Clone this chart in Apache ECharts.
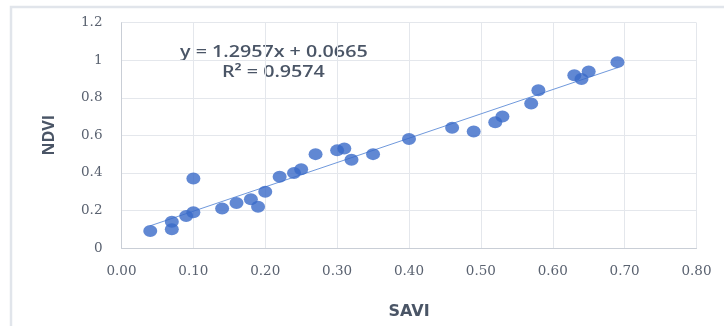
<!DOCTYPE html>
<html>
<head>
<meta charset="utf-8">
<script src="https://cdn.jsdelivr.net/npm/echarts@6/dist/echarts.min.js"></script>
<style>
html,body{margin:0;padding:0;background:#fff;}
#main{width:724px;height:326px;}
</style>
</head>
<body>
<div id="main"></div>
<script>
var saviValues = [0.04, 0.07, 0.07, 0.09, 0.10, 0.10, 0.14, 0.16, 0.18, 0.19, 0.20, 0.22, 0.24, 0.25, 0.27, 0.30, 0.31, 0.32, 0.35, 0.40, 0.46, 0.49, 0.52, 0.53, 0.57, 0.58, 0.63, 0.64, 0.65, 0.69];
var ndviValues = [0.09, 0.14, 0.10, 0.17, 0.19, 0.37, 0.21, 0.24, 0.26, 0.22, 0.30, 0.38, 0.40, 0.42, 0.50, 0.52, 0.53, 0.47, 0.50, 0.58, 0.64, 0.62, 0.67, 0.70, 0.77, 0.84, 0.92, 0.90, 0.94, 0.99];
var trendSlope = 1.2957;
var trendIntercept = 0.0665;
var trendRange = [0.04, 0.69];
var equationText = 'y = 1.2957x + 0.0665';
var r2Text = 'R² = 0.9574';
var xTitle = 'SAVI';
var yTitle = 'NDVI';

var points = saviValues.map(function (x, i) { return [x, ndviValues[i]]; });
var trend = trendRange.map(function (x) { return [x, trendSlope * x + trendIntercept]; });

var chart = echarts.init(document.getElementById('main'), null, {renderer: 'canvas'});
var tickFont = '"DejaVu Serif", "Liberation Serif", serif';
chart.setOption({
  animation: false,
  backgroundColor: '#ffffff',
  grid: {left: 121.5, right: 27.5, top: 22.7, bottom: 78, containLabel: false},
  xAxis: {
    type: 'value', min: 0, max: 0.8, interval: 0.1,
    name: xTitle, nameLocation: 'middle', nameGap: 56,
    nameTextStyle: {fontFamily: '"DejaVu Sans", sans-serif', fontWeight: 'bold', fontSize: 16, color: '#4a5566'},
    axisLine: {show: true, lineStyle: {color: '#c9ced6', width: 1}},
    axisTick: {show: false},
    splitLine: {show: true, lineStyle: {color: '#e4e7ec', width: 1}},
    axisLabel: {margin: 16, fontFamily: tickFont, fontSize: 13.5, color: '#5a6270',
      formatter: function (v) { return v.toFixed(2); }}
  },
  yAxis: {
    type: 'value', min: 0, max: 1.2, interval: 0.2,
    name: yTitle, nameLocation: 'middle', nameGap: 64, nameRotate: 90,
    nameTextStyle: {fontFamily: '"Open Sans", sans-serif', fontWeight: 'bold', fontSize: 16, color: '#4a5566'},
    axisLine: {show: true, lineStyle: {color: '#c9ced6', width: 1}},
    axisTick: {show: false},
    splitLine: {show: true, lineStyle: {color: '#e4e7ec', width: 1}},
    axisLabel: {margin: 19, fontFamily: tickFont, fontSize: 13.5, color: '#5a6270',
      formatter: function (v) { return String(parseFloat(v.toFixed(1))); }}
  },
  series: [
    {
      type: 'line', data: trend, symbol: 'none', silent: true,
      lineStyle: {color: '#7099dc', width: 1}, z: 3
    },
    {
      type: 'scatter', data: points, symbol: 'circle', symbolSize: [14, 12],
      itemStyle: {color: '#3a6ac8'}, z: 4
    }
  ],
  graphic: [
    {type: 'polyline', shape: {points: [[11, 326], [11, 7], [724, 7]]},
      style: {stroke: '#e1e5eb', lineWidth: 2.5, fill: null}, silent: true},
    {type: 'text', x: 180, y: 44, scaleX: 1.23,
      style: {text: equationText, font: '600 16px "Open Sans", sans-serif', fill: '#4a5566'}},
    {type: 'text', x: 222, y: 64, scaleX: 1.23,
      style: {text: r2Text, font: '600 16px "Open Sans", sans-serif', fill: '#4a5566'}}
  ]
});
</script>
</body>
</html>
